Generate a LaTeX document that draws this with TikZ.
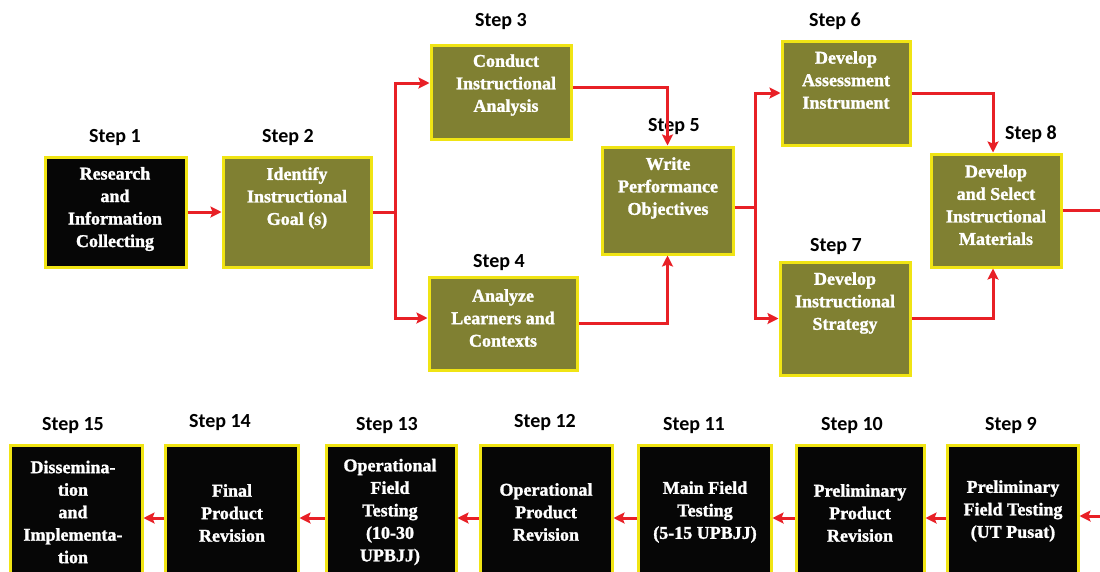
\documentclass[tikz,border=0pt]{standalone}
\usepackage{fontspec}
\setmainfont{Liberation Serif}[BoldFeatures={FakeBold=1.5}]
\newfontfamily\lblfont{Carlito}
\usetikzlibrary{arrows.meta}
\definecolor{olivefill}{RGB}{128,128,50}
\definecolor{ybord}{RGB}{240,228,20}
\definecolor{arrred}{RGB}{232,32,38}
\definecolor{boxblack}{RGB}{6,6,6}
\begin{document}
\begin{tikzpicture}[x=1pt,y=-1pt,
 basebox/.style={draw=ybord, line width=3pt, inner sep=0pt},
 obox/.style={basebox, fill=olivefill},
 kbox/.style={basebox, fill=boxblack},
 btext/.style={text=white, font=\bfseries\fontsize{18}{22.5}\selectfont, align=center, inner sep=0pt},
 slabel/.style={font=\lblfont\bfseries\fontsize{20}{24}\selectfont, inner sep=0pt},
 conn/.style={draw=arrred, line width=3pt, -{Stealth[length=11pt,width=11pt,inset=2pt]}},
 plainline/.style={draw=arrred, line width=3pt}
]
\useasboundingbox (0,0) rectangle (1100,571);
\begin{scope}
\clip (0,0) rectangle (1100,571);
% top row boxes
\node[kbox, minimum width=141pt, minimum height=110pt] (s1) at (115.5,212) {};
\node[obox, minimum width=148pt, minimum height=110pt] (s2) at (297,212) {};
\node[obox, minimum width=140pt, minimum height=94pt] (s3) at (501,92) {};
\node[obox, minimum width=148pt, minimum height=93pt] (s4) at (503,323.5) {};
\node[obox, minimum width=131pt, minimum height=107pt] (s5) at (667.5,200.5) {};
\node[obox, minimum width=128pt, minimum height=104pt] (s6) at (846,93) {};
\node[obox, minimum width=130pt, minimum height=113pt] (s7) at (845,318.5) {};
\node[obox, minimum width=130pt, minimum height=113pt] (s8) at (996,210.5) {};
% bottom row boxes
\node[kbox, minimum width=131pt, minimum height=155pt] (s9) at (1012.5,522.5) {};
\node[kbox, minimum width=128pt, minimum height=155pt] (s10) at (860,522.5) {};
\node[kbox, minimum width=133pt, minimum height=155pt] (s11) at (704.5,522.5) {};
\node[kbox, minimum width=132pt, minimum height=155pt] (s12) at (546,522.5) {};
\node[kbox, minimum width=130pt, minimum height=155pt] (s13) at (391,522.5) {};
\node[kbox, minimum width=133pt, minimum height=155pt] (s14) at (231.5,522.5) {};
\node[kbox, minimum width=132pt, minimum height=155pt] (s15) at (76,522.5) {};
% box texts
\node[btext] (t1) at (115,209) {Research\\and\\Information\\Collecting};
\node[btext] (t2) at (297,198) {Identify\\Instructional\\Goal (s)};
\node[btext] (t3) at (506,85) {Conduct\\Instructional\\Analysis};
\node[btext] (t4) at (503,318) {Analyze\\Learners and\\Contexts};
\node[btext] (t5) at (668,188) {Write\\Performance\\Objectives};
\node[btext] (t6) at (846,80) {Develop\\Assessment\\Instrument};
\node[btext] (t7) at (845,303) {Develop\\Instructional\\Strategy};
\node[btext] (t8) at (996,205) {Develop\\and Select\\Instructional\\Materials};
\node[btext] (t9) at (1013,511) {Preliminary\\Field Testing\\(UT Pusat)};
\node[btext] (t10) at (860,513) {Preliminary\\Product\\Revision};
\node[btext] (t11) at (705,512) {Main Field\\Testing\\(5-15 UPBJJ)};
\node[btext] (t12) at (546,512) {Operational\\Product\\Revision};
\node[btext] (t13) at (390,512) {Operational\\Field\\Testing\\(10-30\\UPBJJ)};
\node[btext] (t14) at (232,513) {Final\\Product\\Revision};
\node[btext] (t15) at (73,512) {Dissemina-\\tion\\and\\Implementa-\\tion};
% step labels
\node[slabel] (l1) at (115,138) {Step 1};
\node[slabel] (l2) at (288,138) {Step 2};
\node[slabel] (l3) at (501,22) {Step 3};
\node[slabel] (l4) at (499,263) {Step 4};
\node[slabel] (l5) at (674,127) {Step 5};
\node[slabel] (l6) at (835,21) {Step 6};
\node[slabel] (l7) at (836,247) {Step 7};
\node[slabel] (l8) at (1031,134) {Step 8};
\node[slabel] (l9) at (1011,426) {Step 9};
\node[slabel] (l10) at (852,426) {Step 10};
\node[slabel] (l11) at (694,426) {Step 11};
\node[slabel] (l12) at (545,423) {Step 12};
\node[slabel] (l13) at (387,426) {Step 13};
\node[slabel] (l14) at (220,423) {Step 14};
\node[slabel] (l15) at (73,426) {Step 15};
% connectors top
\coordinate (j1) at (395,212);
\coordinate (j2) at (755,207);
\coordinate (o8) at (1100,210.5);
\coordinate (i9) at (1100,516);
\draw[conn] (s1.east) -- (s2.west);
\draw[plainline] (s2.east) -- (j1);
\draw[conn] (j1) |- ([yshift=9pt]s3.west);
\draw[conn] (j1) |- ([yshift=5.5pt]s4.west);
\draw[conn] ([yshift=5pt]s3.east) -| (s5.north);
\draw[conn] (s4.east) -| (s5.south);
\draw[plainline] ([yshift=-6.5pt]s5.east) -- (j2);
\draw[conn] (j2) |- (s6.west);
\draw[conn] (j2) |- (s7.west);
\draw[conn] (s6.east) -| ([xshift=-3pt]s8.north);
\draw[conn] (s7.east) -| ([xshift=-3pt]s8.south);
\draw[plainline] (s8.east) -- (o8);
% connectors bottom
\draw[conn] (i9) -- (s9.east |- i9);
\draw[conn] ([yshift=4.5pt]s9.west) -- ([yshift=4.5pt]s10.east);
\draw[conn] ([yshift=4.5pt]s10.west) -- ([yshift=4.5pt]s11.east);
\draw[conn] ([yshift=4.5pt]s11.west) -- ([yshift=4.5pt]s12.east);
\draw[conn] ([yshift=4.5pt]s12.west) -- ([yshift=4.5pt]s13.east);
\draw[conn] ([yshift=4.5pt]s13.west) -- ([yshift=4.5pt]s14.east);
\draw[conn] ([yshift=4.5pt]s14.west) -- ([yshift=4.5pt]s15.east);
\end{scope}
\end{tikzpicture}
\end{document}
